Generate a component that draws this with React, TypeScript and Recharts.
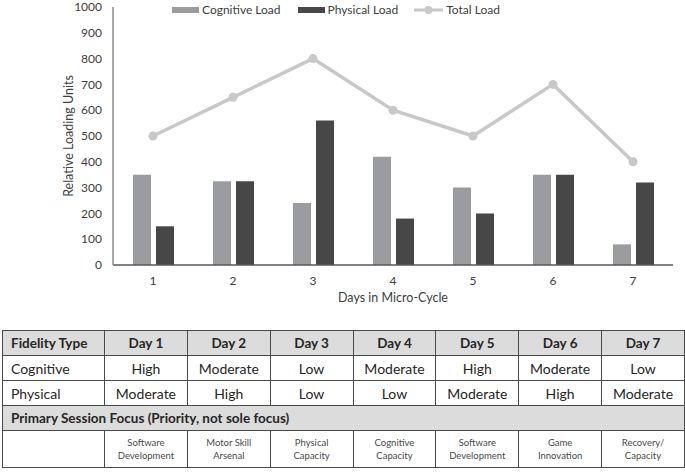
import React from 'react';
import { ComposedChart, Bar, Line, XAxis, YAxis, Label } from 'recharts';

const days = ['1', '2', '3', '4', '5', '6', '7'];
const cognitiveLoad = [350, 325, 240, 420, 300, 350, 80];
const physicalLoad = [150, 325, 560, 180, 200, 350, 320];
const totalLoad = [500, 650, 800, 600, 500, 700, 400];
const yTicks = [0, 100, 200, 300, 400, 500, 600, 700, 800, 900, 1000];

const tableDays = ['Day 1', 'Day 2', 'Day 3', 'Day 4', 'Day 5', 'Day 6', 'Day 7'];
const cognitiveFidelity = ['High', 'Moderate', 'Low', 'Moderate', 'High', 'Moderate', 'Low'];
const physicalFidelity = ['Moderate', 'High', 'Low', 'Low', 'Moderate', 'High', 'Moderate'];
const sessionFocus = [
    ['Software', 'Development'],
    ['Motor Skill', 'Arsenal'],
    ['Physical', 'Capacity'],
    ['Cognitive', 'Capacity'],
    ['Software', 'Development'],
    ['Game', 'Innovation'],
    ['Recovery/', 'Capacity'],
];

const FONT = "Lato, 'Noto Sans', sans-serif";
const COG = '#9a9c9f';
const PHYS = '#474747';
const TOTAL = '#c8c8c8';
const TEXT = '#404040';

const chartData = days.map((d, i) => ({
    day: d,
    cognitive: cognitiveLoad[i],
    physical: physicalLoad[i],
    total: totalLoad[i],
}));

// legend sits over the plot, drawn outside recharts so it doesn't eat plot height
const ChartLegend = () => (
    <div style={{ position: 'absolute', top: 3, left: 172, display: 'flex', alignItems: 'center', fontFamily: FONT, fontSize: 12, color: TEXT, lineHeight: '14px' }}>
        <span style={{ display: 'inline-block', width: 27, height: 6, background: COG, marginRight: 3 }} />
        <span style={{ marginRight: 17 }}>Cognitive Load</span>
        <span style={{ display: 'inline-block', width: 27, height: 6, background: PHYS, marginRight: 3 }} />
        <span style={{ marginRight: 16 }}>Physical Load</span>
        <svg width={29} height={10} style={{ marginRight: 3 }}>
            <line x1={0} y1={5} x2={29} y2={5} stroke={TOTAL} strokeWidth={3} />
            <circle cx={14.5} cy={5} r={4} fill={TOTAL} />
        </svg>
        <span>Total Load</span>
    </div>
);

const thBase: React.CSSProperties = {
    border: '1px solid #4a4a4a',
    fontWeight: 700,
    fontSize: 13.5,
    height: 24,
    padding: 0,
    textAlign: 'center',
    background: '#dcdcdc',
    color: '#262626',
};

const tdBase: React.CSSProperties = {
    border: '1px solid #4a4a4a',
    fontSize: 14,
    height: 24,
    padding: 0,
    textAlign: 'center',
    color: '#262626',
};

export default function App() {
    return (
        <div style={{ position: 'absolute', left: 0, top: 0, width: 685, height: 473, background: '#fff', fontFamily: FONT }}>
            <ComposedChart
                width={685}
                height={310}
                data={chartData}
                margin={{ top: 7, right: 12, bottom: 0, left: 0 }}
                barSize={18}
                barGap={5}
            >
                <XAxis
                    dataKey="day"
                    height={45}
                    tickLine={false}
                    tickSize={0}
                    tickMargin={11}
                    stroke="#595959"
                    strokeWidth={1.5}
                    tick={{ fill: TEXT, fontSize: 12, fontFamily: FONT }}
                >
                    <Label
                        content={({ viewBox }: any) => (
                            <text x={viewBox.x + viewBox.width / 2} y={viewBox.y + 37} textAnchor="middle" fill={TEXT} fontSize={12.5} fontFamily={FONT}>
                                Days in Micro-Cycle
                            </text>
                        )}
                    />
                </XAxis>
                <YAxis
                    width={113}
                    domain={[0, 1000]}
                    ticks={yTicks}
                    interval={0}
                    tickLine={false}
                    tickSize={0}
                    tickMargin={11}
                    stroke="#8c8c8c"
                    strokeWidth={1.5}
                    tick={{ fill: TEXT, fontSize: 12, fontFamily: FONT }}
                >
                    <Label
                        content={({ viewBox }: any) => {
                            const cx = viewBox.x + 68;
                            const cy = viewBox.y + viewBox.height / 2;
                            return (
                                <text x={cx} y={cy} transform={`rotate(-90 ${cx} ${cy})`} textAnchor="middle" dominantBaseline="central" fill={TEXT} fontSize={12.5} fontFamily={FONT}>
                                    Relative Loading Units
                                </text>
                            );
                        }}
                    />
                </YAxis>
                <Bar dataKey="cognitive" name="Cognitive Load" fill={COG} isAnimationActive={false} />
                <Bar dataKey="physical" name="Physical Load" fill={PHYS} isAnimationActive={false} />
                <Line
                    dataKey="total"
                    name="Total Load"
                    type="linear"
                    stroke={TOTAL}
                    strokeWidth={3.5}
                    dot={{ r: 4.5, fill: TOTAL, stroke: TOTAL, strokeWidth: 0 }}
                    isAnimationActive={false}
                />
            </ComposedChart>
            <ChartLegend />
            <table
                style={{
                    position: 'absolute',
                    left: 2,
                    top: 330,
                    width: 682,
                    borderCollapse: 'collapse',
                    tableLayout: 'fixed',
                    fontFamily: FONT,
                }}
            >
                <colgroup>
                    <col style={{ width: 102 }} />
                    {tableDays.map((d) => (
                        <col key={d} style={{ width: 82.857 }} />
                    ))}
                </colgroup>
                <tbody>
                    <tr>
                        <th style={{ ...thBase, textAlign: 'left', paddingLeft: 8 }}>Fidelity Type</th>
                        {tableDays.map((d) => (
                            <th key={d} style={thBase}>{d}</th>
                        ))}
                    </tr>
                    <tr>
                        <td style={{ ...tdBase, textAlign: 'left', paddingLeft: 8 }}>Cognitive</td>
                        {cognitiveFidelity.map((v, i) => (
                            <td key={i} style={tdBase}>{v}</td>
                        ))}
                    </tr>
                    <tr>
                        <td style={{ ...tdBase, textAlign: 'left', paddingLeft: 8 }}>Physical</td>
                        {physicalFidelity.map((v, i) => (
                            <td key={i} style={tdBase}>{v}</td>
                        ))}
                    </tr>
                    <tr>
                        <th colSpan={8} style={{ ...thBase, textAlign: 'left', paddingLeft: 8 }}>
                            Primary Session Focus (Priority, not sole focus)
                        </th>
                    </tr>
                    <tr>
                        <td style={{ ...tdBase, height: 36 }} />
                        {sessionFocus.map((lines, i) => (
                            <td key={i} style={{ ...tdBase, height: 36, fontSize: 9.5, lineHeight: '13px', color: '#4a4a4a' }}>
                                {lines[0]}
                                <br />
                                {lines[1]}
                            </td>
                        ))}
                    </tr>
                </tbody>
            </table>
        </div>
    );
}
